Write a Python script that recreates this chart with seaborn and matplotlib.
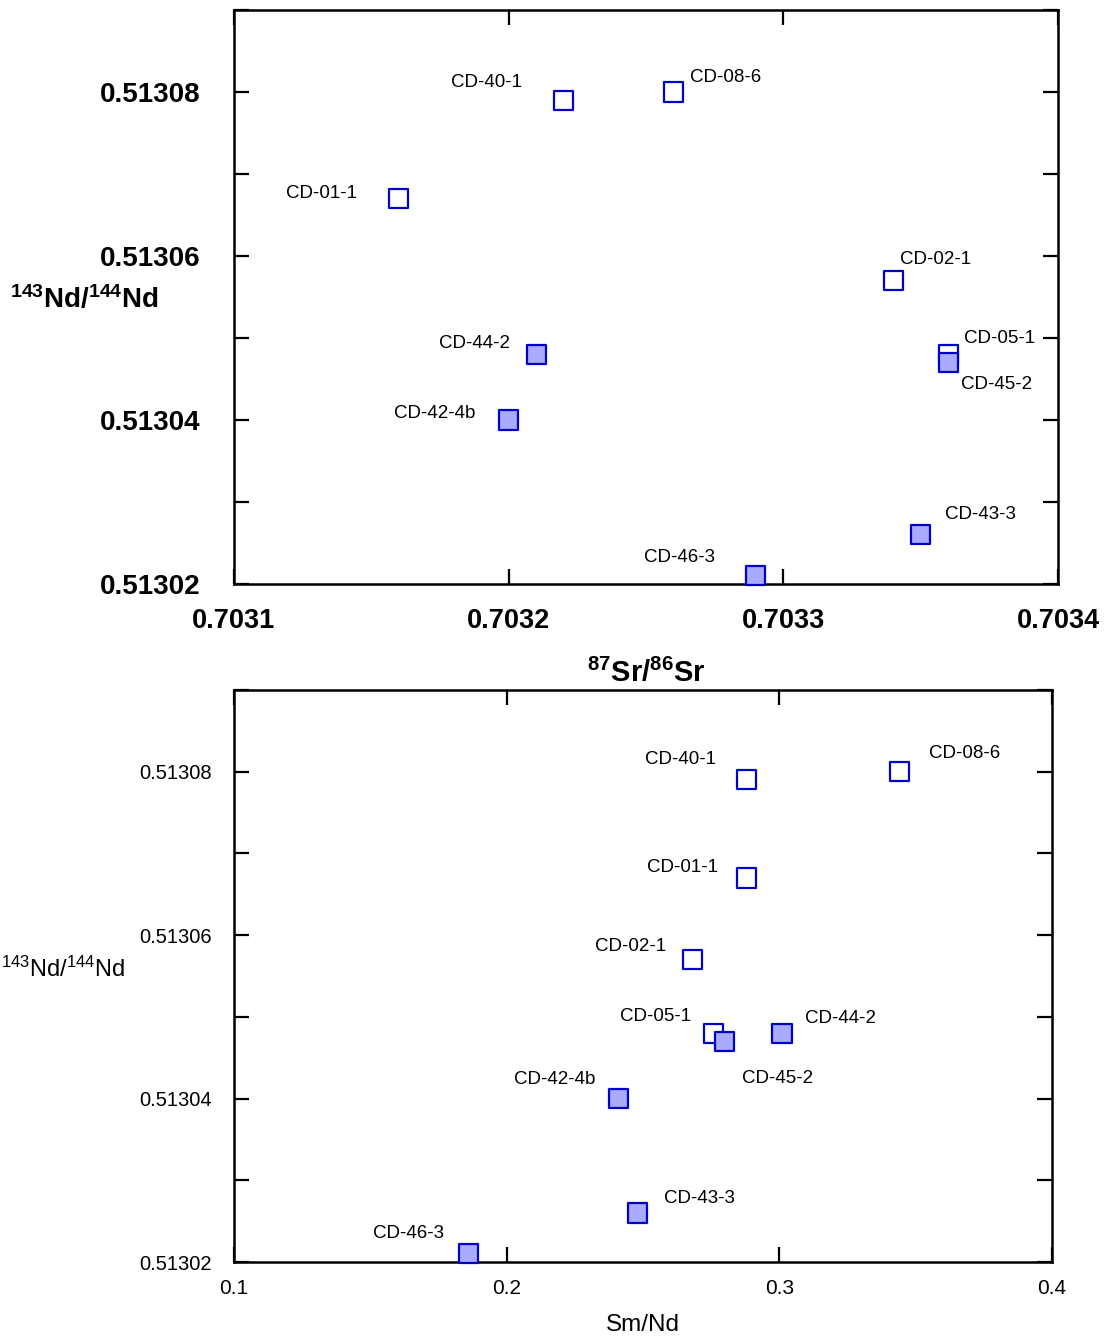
import matplotlib
matplotlib.use("Agg")
import matplotlib.pyplot as plt
import seaborn as sns
import pandas as pd
from matplotlib.ticker import FixedLocator, FormatStrFormatter, NullFormatter

# ---------------- data ----------------
samples = ["CD-40-1", "CD-08-6", "CD-01-1", "CD-02-1", "CD-05-1",
           "CD-44-2", "CD-42-4b", "CD-45-2", "CD-43-3", "CD-46-3"]
group = ["open", "open", "open", "open", "open",
         "filled", "filled", "filled", "filled", "filled"]
sr87_86 = [0.70322, 0.70326, 0.70316, 0.70334, 0.70336,
           0.70321, 0.70320, 0.70336, 0.70335, 0.70329]
nd143_144 = [0.513079, 0.513080, 0.513067, 0.513057, 0.513048,
             0.513048, 0.513040, 0.513047, 0.513026, 0.513021]
sm_nd = [0.288, 0.344, 0.288, 0.268, 0.276,
         0.301, 0.241, 0.280, 0.248, 0.186]

y_major = [0.51302, 0.51304, 0.51306, 0.51308]
y_minor = [0.51303, 0.51305, 0.51307, 0.51309]
x_top_ticks = [0.7031, 0.7032, 0.7033, 0.7034]
x_bot_ticks = [0.1, 0.2, 0.3, 0.4]

df = pd.DataFrame({"sample": samples, "group": group,
                   "sr": sr87_86, "nd": nd143_144, "smnd": sm_nd})

# ---------------- label layout (pixels: ha, dx, dy downward) ----------------
top_lab = {
    "CD-40-1": ("right", -42, -18), "CD-08-6": ("left", 17, -15),
    "CD-01-1": ("right", -42, -5), "CD-02-1": ("left", 7, -21),
    "CD-05-1": ("left", 16, -16), "CD-44-2": ("right", -26, -11),
    "CD-42-4b": ("right", -33, -6), "CD-45-2": ("left", 13, 22),
    "CD-43-3": ("left", 24, -20), "CD-46-3": ("right", -41, -18),
}
bot_lab = {
    "CD-40-1": ("right", -31, -20), "CD-08-6": ("left", 30, -18),
    "CD-01-1": ("right", -29, -10), "CD-02-1": ("right", -26, -13),
    "CD-05-1": ("right", -23, -17), "CD-44-2": ("left", 23, -15),
    "CD-42-4b": ("right", -23, -19), "CD-45-2": ("left", 17, 37),
    "CD-43-3": ("left", 26, -14), "CD-46-3": ("right", -24, -20),
}

sns.set_theme(style="ticks")
plt.rcParams["font.family"] = ["Liberation Sans", "DejaVu Sans"]
plt.rcParams["mathtext.fontset"] = "custom"
plt.rcParams["mathtext.rm"] = "Liberation Sans"
plt.rcParams["mathtext.it"] = "Liberation Sans"
plt.rcParams["mathtext.bf"] = "Liberation Sans:bold"
plt.rcParams["text.color"] = "black"
plt.rcParams["axes.labelcolor"] = "black"
plt.rcParams["xtick.color"] = "black"
plt.rcParams["ytick.color"] = "black"
plt.rcParams["xtick.labelcolor"] = "black"
plt.rcParams["ytick.labelcolor"] = "black"

fig = plt.figure(figsize=(11.06, 13.40), dpi=100)
ax1 = fig.add_axes([234 / 1106, 1 - 584 / 1340, 824 / 1106, 574 / 1340])
ax2 = fig.add_axes([234 / 1106, 1 - 1262 / 1340, 818 / 1106, 572 / 1340])

palette = {"open": "white", "filled": "#AAAAFF"}
edge = "#0000CC"

for ax, xcol, labs in [(ax1, "sr", top_lab), (ax2, "smnd", bot_lab)]:
    sns.scatterplot(data=df, x=xcol, y="nd", hue="group", palette=palette,
                    marker="s", s=190, edgecolor=edge, linewidth=1.6,
                    legend=False, ax=ax, zorder=3, clip_on=False)
    for _, r in df.iterrows():
        ha, dx, dy = labs[r["sample"]]
        ax.annotate(r["sample"], (r[xcol], r["nd"]), xytext=(dx, -dy),
                    textcoords="offset pixels", ha=ha, va="center",
                    fontsize=13.5, color="black")
    ax.set_ylim(0.51302, 0.51309)
    for s in ax.spines.values():
        s.set_linewidth(1.8)
        s.set_color("black")
        s.set_visible(True)
    ax.yaxis.set_major_locator(FixedLocator(y_major))
    ax.yaxis.set_minor_locator(FixedLocator(y_minor))
    ax.yaxis.set_minor_formatter(NullFormatter())
    ax.yaxis.set_major_formatter(FormatStrFormatter("%.5f"))
    ax.tick_params(axis="both", which="both", direction="in", length=11,
                   width=1.6, top=True, right=True, color="black",
                   labelcolor="black")

# top axes
ax1.set_xlim(0.7031, 0.7034)
ax1.xaxis.set_major_locator(FixedLocator(x_top_ticks))
ax1.xaxis.set_major_formatter(FormatStrFormatter("%.4f"))
ax1.tick_params(axis="y", which="major", pad=24, labelsize=20)
ax1.tick_params(axis="x", which="major", pad=17, labelsize=19.5)
for t in ax1.get_xticklabels() + ax1.get_yticklabels():
    t.set_fontweight("bold")
ax1.set_xlabel(r"$\mathbf{^{87}Sr/^{86}Sr}$", fontsize=21, color="black")
ax1.xaxis.set_label_coords(0.5, -0.155)
ax1.xaxis.label.set_va("center")
ax1.set_ylabel(r"$\mathbf{^{143}Nd/^{144}Nd}$", fontsize=20, rotation=0,
               color="black")
ax1.yaxis.set_label_coords(-0.182, 0.495)
ax1.yaxis.label.set_ha("center")
ax1.yaxis.label.set_va("center")

# bottom axes
ax2.set_xlim(0.1, 0.4)
ax2.xaxis.set_major_locator(FixedLocator(x_bot_ticks))
ax2.xaxis.set_major_formatter(FormatStrFormatter("%.1f"))
ax2.tick_params(axis="y", which="major", pad=16, labelsize=14.5)
ax2.tick_params(axis="x", which="major", pad=12, labelsize=15)
ax2.set_xlabel("Sm/Nd", fontsize=17.5, color="black")
ax2.xaxis.set_label_coords(0.5, -0.110)
ax2.xaxis.label.set_va("center")
ax2.set_ylabel(r"$^{143}$Nd/$^{144}$Nd", fontsize=17, rotation=0,
               color="black")
ax2.yaxis.set_label_coords(-0.209, 0.512)
ax2.yaxis.label.set_ha("center")
ax2.yaxis.label.set_va("center")

fig.savefig("out.png", dpi=100, facecolor="white")
